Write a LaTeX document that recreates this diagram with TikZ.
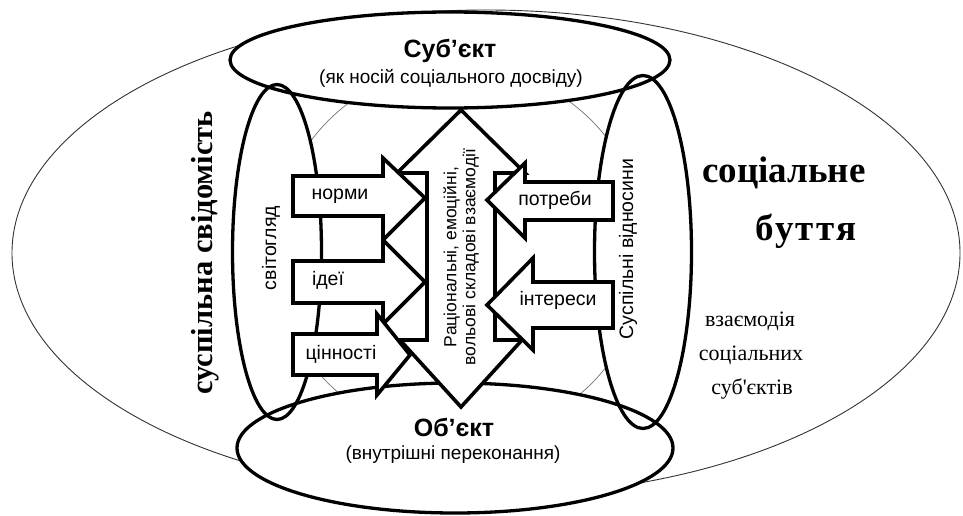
\documentclass[tikz,border=0pt]{standalone}
\usepackage{fontspec}
\setmainfont{Liberation Sans}
\newfontfamily\antykva{Liberation Serif}

\begin{document}
\begin{tikzpicture}[x=1pt, y=-1pt]
			\tikzset{tonka/.style={draw=black!80, line width=0.9pt}, kolo/.style={draw=black!55, line width=0.7pt},
				oval/.style={draw=black, line width=3.3pt}, strilka/.style={draw=black, fill=white, line width=3.6pt, line join=miter},
				zagolovok/.style={inner sep=0pt, font=\bfseries\fontsize{25}{28}\selectfont},
				pidpys/.style={inner sep=0pt, font=\fontsize{19}{22}\selectfont},
				mitka/.style={inner sep=0pt, font=\fontsize{19.5}{22}\selectfont},
				centr/.style={inner sep=0pt, align=center, font=\fontsize{17.5}{19}\selectfont},
				velykyj/.style={inner sep=0pt, font=\antykva\bfseries\fontsize{37}{40}\selectfont},
				serednij/.style={inner sep=0pt, font=\antykva\fontsize{22}{26}\selectfont}};

			\useasboundingbox (0,0) rectangle (963,516);

			\draw[tonka, fill=white] (486,253) ellipse [x radius=474pt, y radius=243pt];
			\draw[kolo] (460,252) circle [radius=186pt];

			\fill[white] (450, 60) ellipse [x radius=220pt, y radius=48pt];
			\fill[white] (455,448) ellipse [x radius=218pt, y radius=65pt];
			\fill[white] (277,252) ellipse [x radius=44.5pt, y radius=167.5pt];
			\fill[white] (643,252) ellipse [x radius=48.5pt, y radius=176.5pt];

			\draw[oval] (450, 60) ellipse [x radius=220pt, y radius=48pt];
			\draw[oval] (455,448) ellipse [x radius=218pt, y radius=65pt];
			\draw[oval] (277,252) ellipse [x radius=44.5pt, y radius=167.5pt];
			\draw[oval] (643,252) ellipse [x radius=48.5pt, y radius=176.5pt];

			\draw[strilka] (461,110) -- (525,173) -- (495,173) -- (495,340) -- (522,340) -- (461,407)
				-- (400,340) -- (427,340) -- (427,173) -- (397,173) -- cycle;

			\draw[strilka] (293,176) -- (383,176) -- (383,158) -- (425,198) -- (383,240) -- (383,216) -- (293,216) -- cycle;
			\draw[strilka] (293,261) -- (383,261) -- (383,240) -- (425,282) -- (383,324) -- (383,303) -- (293,303) -- cycle;
			\draw[strilka] (293,334) -- (377,334) -- (377,314) -- (410,355) -- (377,395) -- (377,375) -- (293,375) -- cycle;
			\draw[strilka] (613,182) -- (525,182) -- (525,163) -- (487,200) -- (525,238) -- (525,220) -- (613,220) -- cycle;
			\draw[strilka] (613,282) -- (533,282) -- (533,258) -- (487,305) -- (533,350) -- (533,328) -- (613,328) -- cycle;

			\node[zagolovok] (subjekt)   at (450, 51) {Суб’єкт};
			\node[pidpys]    (nosij)     at (451, 78) {(як носій соціального досвіду)};
			\node[zagolovok] (objekt)    at (454,427) {Об’єкт};
			\node[pidpys]    (perekon)   at (453,455) {(внутрішні переконання)};

			\node[mitka, rotate=90] (svitohljad) at (271,248) {світогляд};
			\node[mitka, rotate=90] (vidnosyny)  at (628,249) {Суспільні відносини};
			\node[centr, rotate=90] (skladovi)   at (461,257) {Раціональні, емоційні,\\вольові складові взаємодії};

			\node[mitka] (normy)    at (340,196) {норми};
			\node[mitka] (idei)     at (328,280) {ідеї};
			\node[mitka] (cinnosti) at (341,354) {цінності};
			\node[mitka] (potreby)  at (555,200) {потреби};
			\node[mitka] (interesy) at (558,300) {інтереси};

			\node[velykyj, rotate=90, anchor=base, font=\antykva\bfseries\fontsize{30.5}{34}\selectfont] (svidomist) at (212,253) {суспільна свідомість};
			\node[velykyj, anchor=base] (socialne) at (784,182) {соціальне};
			\node[velykyj, anchor=base] (buttja)   at (806,240) {\addfontfeatures{LetterSpace=6}буття};

			\node[serednij, anchor=base] (vzajemodija) at (750,326) {взаємодія};
			\node[serednij, anchor=base] (socialnyh)   at (751,360) {соціальних};
			\node[serednij, anchor=base] (subjektiv)   at (752,394) {суб\textquotesingle єктів};

		\end{tikzpicture}
\end{document}
